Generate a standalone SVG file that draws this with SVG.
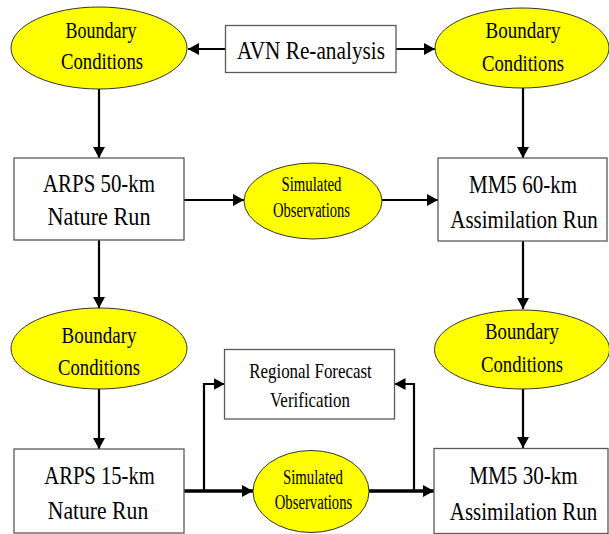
<svg xmlns="http://www.w3.org/2000/svg" width="609" height="534" viewBox="0 0 609 534">
<defs>
<marker id="ah" markerUnits="userSpaceOnUse" markerWidth="11" markerHeight="12" refX="11" refY="6" orient="auto">
<path d="M0,0 L11,6 L0,12 Z" fill="#000"/>
</marker>
<style>
.box{fill:#fff;stroke:#5a5a5a;stroke-width:1.3}
.ell{fill:#ffff00;stroke:#333;stroke-width:1}
.c{fill:none;stroke:#000;stroke-width:2.2;marker-end:url(#ah)}
.thick{stroke-width:3.5}
text{text-anchor:middle;fill:#000}
.big{font-size:25px}
.bc{font-size:23px}
.so{font-size:20px}
.rf{font-size:21px}
</style>
</defs>
<rect width="609" height="534" fill="#fff"/>
<g id="connectors">
<line class="c" x1="225" y1="49" x2="188" y2="49"/>
<line class="c" x1="396" y1="49" x2="435" y2="49"/>
<line class="c" x1="99" y1="89" x2="99" y2="158"/>
<line class="c" x1="523" y1="88" x2="523" y2="158"/>
<line class="c" x1="184" y1="200" x2="244" y2="200"/>
<line class="c" x1="382" y1="200" x2="438" y2="200"/>
<line class="c" x1="99" y1="240" x2="99" y2="308"/>
<line class="c" x1="523" y1="241" x2="523" y2="309"/>
<line class="c" x1="99" y1="389" x2="99" y2="449"/>
<line class="c" x1="523" y1="389" x2="523" y2="448"/>
<line class="c thick" x1="184" y1="491" x2="253" y2="491"/>
<line class="c thick" x1="369" y1="491" x2="434" y2="491"/>
<polyline class="c" points="204,491 204,384 224.5,384"/>
<polyline class="c" points="414,491 414,384 394.5,384"/>
</g>
<g font-family="'Liberation Serif', 'DejaVu Serif', serif">
<g id="bc-tl">
<ellipse class="ell" cx="99" cy="48" rx="88" ry="41"/>
<text class="bc" x="101" y="38" textLength="71" lengthAdjust="spacingAndGlyphs">Boundary</text>
<text class="bc" x="102" y="69" textLength="82" lengthAdjust="spacingAndGlyphs">Conditions</text>
</g>
<g id="avn">
<rect class="box" x="225.5" y="25.5" width="170.5" height="47"/>
<text class="big" x="311" y="59" textLength="148" lengthAdjust="spacingAndGlyphs">AVN Re-analysis</text>
</g>
<g id="bc-tr">
<ellipse class="ell" cx="522" cy="48" rx="87" ry="40"/>
<text class="bc" x="523" y="38" textLength="75" lengthAdjust="spacingAndGlyphs">Boundary</text>
<text class="bc" x="523" y="71" textLength="82" lengthAdjust="spacingAndGlyphs">Conditions</text>
</g>
<g id="arps50">
<rect class="box" x="14" y="158" width="170" height="82"/>
<text class="big" x="99" y="191.5" textLength="112" lengthAdjust="spacingAndGlyphs">ARPS 50-km</text>
<text class="big" x="99" y="225" textLength="103" lengthAdjust="spacingAndGlyphs">Nature Run</text>
</g>
<g id="simobs1">
<ellipse class="ell" cx="313" cy="201" rx="69" ry="38"/>
<text class="so" x="311.5" y="190.5" textLength="60" lengthAdjust="spacingAndGlyphs">Simulated</text>
<text class="so" x="311.5" y="216.5" textLength="77" lengthAdjust="spacingAndGlyphs">Observations</text>
</g>
<g id="mm5-60">
<rect class="box" x="438" y="158" width="169" height="83"/>
<text class="big" x="523" y="193" textLength="108" lengthAdjust="spacingAndGlyphs">MM5 60-km</text>
<text class="big" transform="translate(524,228) scale(0.84,1)">Assimilation Run</text>
</g>
<g id="bc-bl">
<ellipse class="ell" cx="99" cy="348.5" rx="88" ry="40.5"/>
<text class="bc" x="99" y="343" textLength="75" lengthAdjust="spacingAndGlyphs">Boundary</text>
<text class="bc" x="99" y="375" textLength="82" lengthAdjust="spacingAndGlyphs">Conditions</text>
</g>
<g id="bc-br">
<ellipse class="ell" cx="522" cy="349.5" rx="87.5" ry="39.5"/>
<text class="bc" x="522" y="338.5" textLength="74" lengthAdjust="spacingAndGlyphs">Boundary</text>
<text class="bc" x="522" y="371.5" textLength="82" lengthAdjust="spacingAndGlyphs">Conditions</text>
</g>
<g id="rfv">
<rect class="box" x="224.5" y="349.5" width="170" height="69.5"/>
<text class="rf" x="310.5" y="377.5" textLength="122.5" lengthAdjust="spacingAndGlyphs">Regional Forecast</text>
<text class="rf" x="310" y="406.5" textLength="80" lengthAdjust="spacingAndGlyphs">Verification</text>
</g>
<g id="arps15">
<rect class="box" x="14" y="449" width="170" height="84"/>
<text class="big" x="99.5" y="483.5" textLength="110.5" lengthAdjust="spacingAndGlyphs">ARPS 15-km</text>
<text class="big" x="98" y="518.5" textLength="100.5" lengthAdjust="spacingAndGlyphs">Nature Run</text>
</g>
<g id="simobs2">
<ellipse class="ell" cx="311" cy="491.5" rx="58" ry="41"/>
<text class="so" x="313" y="483.5" textLength="60" lengthAdjust="spacingAndGlyphs">Simulated</text>
<text class="so" x="313.5" y="508.5" textLength="77.5" lengthAdjust="spacingAndGlyphs">Observations</text>
</g>
<g id="mm5-30">
<rect class="box" x="434" y="448.5" width="174" height="85"/>
<text class="big" x="523.5" y="483.5" textLength="108.5" lengthAdjust="spacingAndGlyphs">MM5 30-km</text>
<text class="big" transform="translate(523.5,520) scale(0.84,1)">Assimilation Run</text>
</g>
</g>
</svg>
